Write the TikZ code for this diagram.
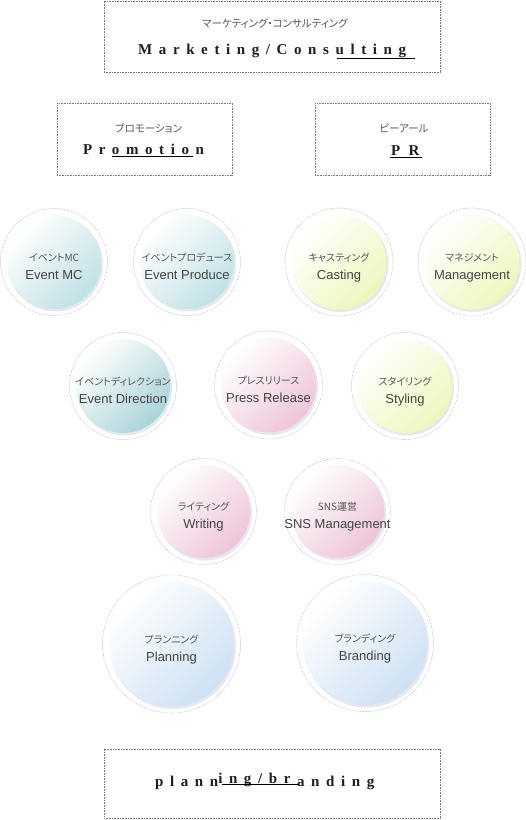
\documentclass[tikz,border=0pt]{standalone}
\usepackage{fontspec}
\setmainfont{Liberation Serif}
\setsansfont{Liberation Sans}
\newfontfamily\jpf[RawFeature=+palt]{Noto Sans CJK JP}
\newfontfamily\enf{Liberation Sans}
\newfontfamily\ttlf[LetterSpace=44]{Liberation Serif}
\usetikzlibrary{calc}
\definecolor{bteal}{HTML}{C0E1E5}
\definecolor{bteaL}{HTML}{A9D3D8}
\definecolor{byel}{HTML}{ECF8BC}
\definecolor{bpink}{HTML}{EEC4D9}
\definecolor{bblue}{HTML}{CDE1F3}
\definecolor{ringline}{HTML}{BBBBBB}
\definecolor{shad}{HTML}{E4E8EF}
\definecolor{boxline}{HTML}{777777}
\definecolor{jptext}{HTML}{555555}
\definecolor{entext}{HTML}{444444}
\definecolor{ttltext}{HTML}{1E1E1E}
\tikzset{
  ring/.style={circle, fill=white, draw=ringline, dash pattern=on 0.6pt off 0.9pt, line width=0.6pt, inner sep=0pt},
  jpl/.style={font=\jpf\fontsize{10}{12}\selectfont, text=jptext, inner sep=0pt, anchor=base},
  enl/.style={font=\enf\fontsize{13}{15}\selectfont, text=entext, inner sep=0pt, anchor=base},
  tbox/.style={draw=boxline, dash pattern=on 0.8pt off 0.8pt, line width=0.8pt, inner sep=0pt},
  ttl/.style={font=\ttlf\bfseries\fontsize{15}{18}\selectfont, text=ttltext, inner sep=0pt, anchor=base west},
  uline/.style={draw=black, line width=0.9pt},
}
\newcommand\bubble[7]{%
  \node[ring, minimum size=#4*2pt] (#1) at (#2,#3) {};
  \fill[shad] ($(#1)+(1.5,2)$) circle[radius=#4*1pt-6pt];
  \shade[top color=white, bottom color=#5, shading angle=45] (#1) circle[radius=#4*1pt-6.5pt];
  \node[jpl] (#1-jp) at ($(#1)+(0,-1)$) {#6};
  \node[enl] (#1-en) at ($(#1)+(0,17)$) {#7};
}
\begin{document}
\begin{tikzpicture}[x=1pt, y=-1pt]
\useasboundingbox[fill=white] (0,0) rectangle (526,820);
% boxes
\node[tbox, minimum width=336pt, minimum height=71pt] (top) at (272,36.5) {};
\node[jpl, font=\jpf\fontsize{10.5}{12}\selectfont] (top-jp) at (275,27) {マーケティング・コンサルティング};
\node[ttl] (top-en) at (138,54) {Marketing/Consulting};
\draw[uline] (337,58) -- (415,58);

\node[tbox, minimum width=175pt, minimum height=72pt] (promo) at (144.5,139) {};
\node[jpl, font=\jpf\fontsize{10.5}{12}\selectfont] (promo-jp) at (148.5,132) {プロモーション};
\node[ttl] (promo-en) at (83,154) {Promotion};
\draw[uline] (112,156) -- (193,156);

\node[tbox, minimum width=175pt, minimum height=72pt] (pr) at (402.5,139) {};
\node[jpl, font=\jpf\fontsize{10.5}{12}\selectfont] (pr-jp) at (404,132) {ピーアール};
\node[ttl, font=\ttlf\bfseries\fontsize{15}{18}\selectfont\addfontfeature{LetterSpace=30}] (pr-en) at (391,155) {P R};
\draw[uline] (390,157) -- (422,157);

\node[tbox, minimum width=336pt, minimum height=69pt] (bot) at (272,783.5) {};
\node[ttl] (bot-en) at (155,786) {plann\raisebox{3pt}{ing/br}\kern6.6pt anding};
\draw[uline] (222,784) -- (299,784);

% bubbles
\bubble{a1}{54}{262}{53.5}{bteal}{イベントMC}{Event MC}
\bubble{a2}{187}{262}{53.5}{bteal}{イベントプロデュース}{Event Produce}
\bubble{a3}{339}{262}{54}{byel}{キャスティング}{Casting}
\bubble{a4}{472}{262}{54}{byel}{マネジメント}{Management}
\bubble{b1}{123}{386}{53.5}{bteaL}{イベントディレクション}{Event Direction}
\bubble{b2}{268.5}{385}{54}{bpink}{プレスリリース}{Press Release}
\bubble{b3}{405}{386}{53.5}{byel}{スタイリング}{Styling}
\bubble{c1}{203.5}{511.5}{53}{bpink}{ライティング}{Writing}
\bubble{c2}{337.5}{511.5}{53}{bpink}{SNS運営}{SNS Management}
\bubble{d1}{171.5}{644}{69}{bblue}{プランニング}{Planning}
\bubble{d2}{365}{643}{68.5}{bblue}{ブランディング}{Branding}
\end{tikzpicture}
\end{document}
